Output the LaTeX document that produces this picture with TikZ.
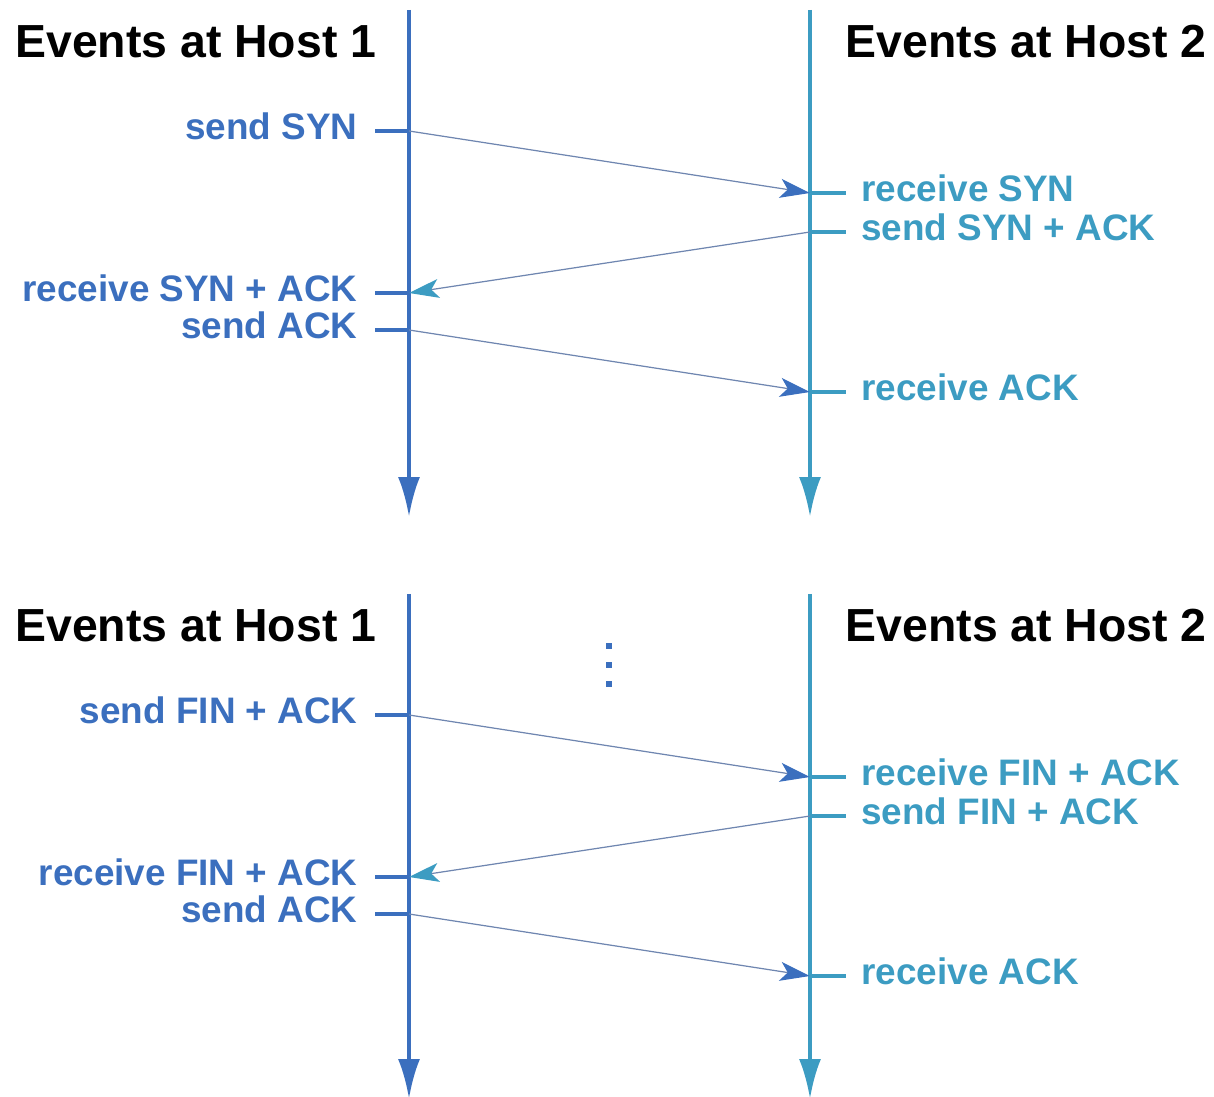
\documentclass[tikz,border=0pt]{standalone}
\usepackage{fontspec}
\setmainfont{Liberation Sans}
\usepackage{xcolor}
\usetikzlibrary{arrows.meta,positioning,calc}
\definecolor{hostone}{HTML}{3B6FBE}
\definecolor{hosttwo}{HTML}{3C9CC2}
\definecolor{msgline}{HTML}{6F86B0}
\newcommand{\LeftEvent}[3]{%
  \coordinate (#1) at (409,#2);
  \coordinate (#1-t) at (375,#2);
  \draw[tickline, hostone] (#1-t) -- (#1);
  \node[evtext, hostone, anchor=east] (#1-l) at ($(#1-t)+(-17,-5)$) {#3};
}
\newcommand{\RightEvent}[3]{%
  \coordinate (#1) at (810,#2);
  \coordinate (#1-t) at (846,#2);
  \draw[tickline, hosttwo] (#1) -- (#1-t);
  \node[evtext, hosttwo, anchor=west] (#1-l) at ($(#1-t)+(15,-5)$) {#3};
}

\begin{document}
\begin{tikzpicture}[x=0.02cm, y=-0.02cm,
    hosthead/.style={font=\fontsize{26.4}{30}\selectfont\bfseries, inner sep=0pt},
    evtext/.style={font=\fontsize{21}{24}\selectfont\bfseries, inner sep=0pt},
    timeline/.style={line width=2.4pt, -{Latex[length=8mm, width=4.4mm]}},
    tickline/.style={line width=2pt},
    msg/.style={draw=msgline, line width=0.7pt,
      -{Stealth[length=6mm, width=3.8mm, inset=1.5mm, color=#1]}}]
  \useasboundingbox (0,0) rectangle (1214,1097);

  % opening the connection
  \coordinate (a1) at (409,10);
  \coordinate (a2) at (409,517);
  \coordinate (b1) at (810,10);
  \coordinate (b2) at (810,517);
  \draw[timeline, hostone] (a1) -- (a2);
  \draw[timeline, hosttwo] (b1) -- (b2);
  \node[hosthead, anchor=west] (ha) at (15,42) {Events at Host 1};
  \node[hosthead, anchor=east] (hb) at (1207,42) {Events at Host 2};

  \LeftEvent{s1}{131}{send SYN}
  \RightEvent{r1}{193}{receive SYN}
  \RightEvent{s2}{232}{send SYN + ACK}
  \LeftEvent{r2}{293}{receive SYN + ACK}
  \LeftEvent{s3}{330}{send ACK}
  \RightEvent{r3}{392}{receive ACK}
  \draw[msg=hostone] (s1) -- (r1);
  \draw[msg=hosttwo] (s2) -- (r2);
  \draw[msg=hostone] (s3) -- (r3);

  % closing the connection
  \coordinate (c1) at (409,594);
  \coordinate (c2) at (409,1099);
  \coordinate (d1) at (810,594);
  \coordinate (d2) at (810,1099);
  \draw[timeline, hostone] (c1) -- (c2);
  \draw[timeline, hosttwo] (d1) -- (d2);
  \node[hosthead, anchor=west] (hc) at (15,626) {Events at Host 1};
  \node[hosthead, anchor=east] (hd) at (1207,626) {Events at Host 2};
  \foreach \y in {646,665,684}
    \fill[hostone] (606,\y-3) rectangle (612,\y+3);

  \LeftEvent{f1}{715}{send FIN + ACK}
  \RightEvent{g1}{777}{receive FIN + ACK}
  \RightEvent{f2}{816}{send FIN + ACK}
  \LeftEvent{g2}{877}{receive FIN + ACK}
  \LeftEvent{f3}{914}{send ACK}
  \RightEvent{g3}{976}{receive ACK}
  \draw[msg=hostone] (f1) -- (g1);
  \draw[msg=hosttwo] (f2) -- (g2);
  \draw[msg=hostone] (f3) -- (g3);
\end{tikzpicture}
\end{document}
